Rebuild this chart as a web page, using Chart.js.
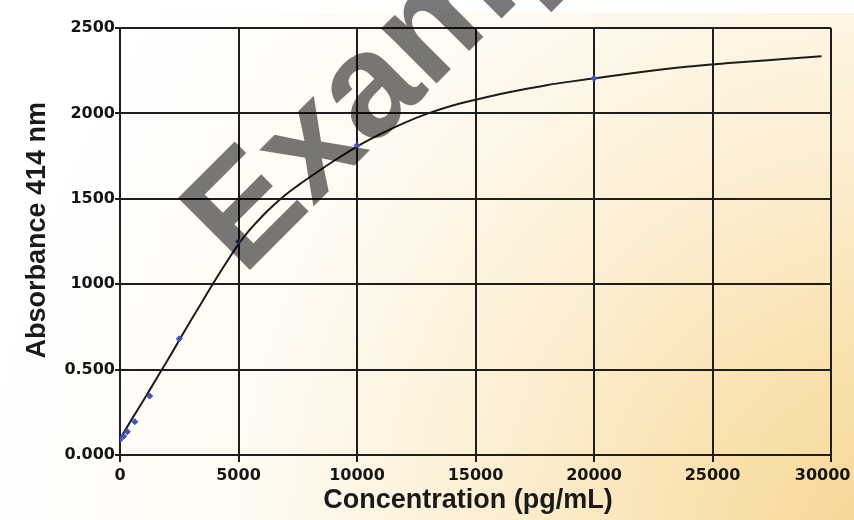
<!DOCTYPE html>
<html>
<head>
<meta charset="utf-8">
<script src="https://cdn.jsdelivr.net/npm/chart.js@4/dist/chart.umd.min.js"></script>
<style>
  html, body { margin: 0; padding: 0; background: #fff; }
  #wrap { width: 854px; height: 520px; position: relative; }
</style>
</head>
<body>
<div id="wrap"><canvas id="c" width="854" height="520"></canvas></div>
<script>
// ---- data ----
const curveConc = [0, 500, 1000, 1500, 2000, 2500, 3000, 3500, 4000, 4500, 5000, 5500, 6000, 6500, 7000, 7500, 8000, 9000, 10000, 11000, 12000, 13000, 14000, 15000, 16000, 17000, 18000, 19000, 20000, 22000, 24000, 26000, 28000, 29600];
const curveAbs  = [95, 210, 322, 438, 553, 672, 790, 905, 1020, 1130, 1235, 1322, 1398, 1465, 1525, 1577, 1626, 1720, 1806, 1880, 1945, 2000, 2045, 2080, 2112, 2140, 2165, 2186, 2205, 2242, 2274, 2298, 2318, 2334];

const stdConc = [0, 156, 312, 625, 1250, 2500, 5000, 10000, 20000];
const stdAbs  = [90, 110, 136, 195, 345, 680, 1250, 1812, 2205];

const xTickLabels = ['0', '5000', '10000', '15000', '20000', '25000', '30000'];
const yTickLabels = ['0.000', '0.500', '1000', '1500', '2000', '2500'];

const xTitle = 'Concentration (pg/mL)';
const yTitle = 'Absorbance 414 nm';
const watermark = 'Example';

// ---- build library structures ----
const curvePts = curveConc.map((x, i) => ({ x: x, y: curveAbs[i] }));
const stdPts = stdConc.map((x, i) => ({ x: x, y: stdAbs[i] }));

const bgPlugin = {
  id: 'bg',
  beforeDraw(chart) {
    const ctx = chart.ctx;
    const w = chart.width, h = chart.height;
    ctx.save();
    const g = ctx.createRadialGradient(890, 540, 0, 890, 540, 900);
    g.addColorStop(0, '#f6d595');
    g.addColorStop(0.2, '#f9e1ad');
    g.addColorStop(0.45, '#fcefd3');
    g.addColorStop(0.7, '#fffaf1');
    g.addColorStop(1, '#ffffff');
    ctx.fillStyle = g;
    ctx.fillRect(0, 0, w, h);
    ctx.fillStyle = '#ffffff';
    ctx.fillRect(0, 0, w, 13);
    ctx.restore();
  }
};

const wmPlugin = {
  id: 'wm',
  afterDraw(chart) {
    const ctx = chart.ctx;
    ctx.save();
    ctx.translate(243, 277);
    ctx.rotate(-Math.PI / 4);
    ctx.font = 'bold 148px "Liberation Sans", Arial, sans-serif';
    ctx.fillStyle = 'rgba(0,0,0,0.53)';
    ctx.textBaseline = 'alphabetic';
    ctx.textAlign = 'left';
    ctx.fillText(watermark, 0, 0);
    ctx.restore();
  }
};

const tickFont = { family: '"DejaVu Sans", sans-serif', size: 16, weight: 'bold' };
const titleFont = { family: '"Liberation Sans", Arial, sans-serif', size: 27, weight: 'bold' };

new Chart(document.getElementById('c'), {
  type: 'scatter',
  data: {
    datasets: [
      {
        label: 'curve',
        data: curvePts,
        showLine: true,
        borderColor: '#1c1c1c',
        borderWidth: 2,
        pointRadius: 0,
        cubicInterpolationMode: 'monotone',
        order: 2
      },
      {
        label: 'standards',
        data: stdPts,
        showLine: false,
        backgroundColor: '#3d54bd',
        borderColor: '#3d54bd',
        pointRadius: 3,
        pointStyle: 'rectRot',
        order: 1
      }
    ]
  },
  options: {
    responsive: false,
    animation: false,
    layout: { padding: { top: 28, right: 23, bottom: 0, left: 0 } },
    plugins: { legend: { display: false }, tooltip: { enabled: false } },
    scales: {
      x: {
        type: 'linear',
        min: 0, max: 30000,
        afterFit(s) { s.height = 65; s.paddingLeft = 0; s.paddingRight = 0; },
        ticks: {
          stepSize: 5000,
          maxRotation: 0,
          autoSkip: false,
          padding: 4,
          color: '#151515',
          font: tickFont,
          callback(v) {
            const i = Math.round(v / 5000);
            const lab = xTickLabels[i];
            return i === xTickLabels.length - 1 ? lab + '   ' : lab;
          }
        },
        grid: { color: '#1e1e1e', lineWidth: 2, tickLength: 7, tickColor: '#1e1e1e' },
        border: { color: '#1e1e1e', width: 2 },
        title: { display: true, text: xTitle + '  ', color: '#1a1a1a', font: titleFont, padding: { top: 0, bottom: 3 } }
      },
      y: {
        type: 'linear',
        min: 0, max: 2500,
        afterFit(s) { s.width = 120; s.paddingTop = 0; s.paddingBottom = 0; },
        ticks: {
          stepSize: 500,
          padding: 0,
          color: '#151515',
          font: tickFont,
          callback(v) { return yTickLabels[Math.round(v / 500)]; }
        },
        grid: { color: '#1e1e1e', lineWidth: 2, tickLength: 5, tickColor: '#1e1e1e' },
        border: { color: '#1e1e1e', width: 2 },
        title: { display: true, text: '   ' + yTitle, color: '#1a1a1a', font: titleFont, padding: { top: 21, bottom: 0 } }
      }
    }
  },
  plugins: [bgPlugin, wmPlugin]
});
</script>
</body>
</html>
